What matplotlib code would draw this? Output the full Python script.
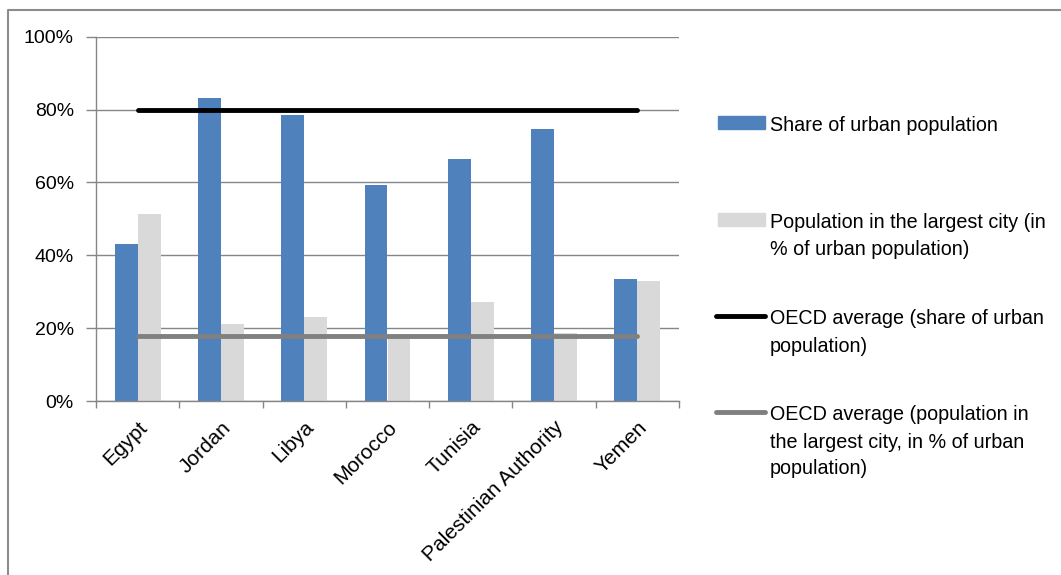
import matplotlib
matplotlib.use("Agg")
import matplotlib.pyplot as plt
from matplotlib.lines import Line2D
from matplotlib.patches import Rectangle
import numpy as np

plt.rcParams['font.family'] = ['Liberation Sans', 'DejaVu Sans']

countries = ["Egypt", "Jordan", "Libya", "Morocco", "Tunisia",
             "Palestinian Authority", "Yemen"]
urban_share = [43.0, 83.2, 78.4, 59.3, 66.5, 74.8, 33.5]
largest_city = [51.2, 21.2, 23.0, 18.0, 27.1, 18.8, 33.0]
oecd_urban = 80.0
oecd_largest = 17.8
yticks = [0, 20, 40, 60, 80, 100]
ytick_labels = ["0%", "20%", "40%", "60%", "80%", "100%"]
legend_labels = [
    "Share of urban population",
    "Population in the largest city (in\n% of urban population)",
    "OECD average (share of urban\npopulation)",
    "OECD average (population in\nthe largest city, in % of urban\npopulation)",
]

BLUE = "#4F81BD"
LIGHT = "#D9D9D9"
GRID = "#868686"
DARKGREY = "#808080"

W, H = 1061, 575
fig = plt.figure(figsize=(W / 100, H / 100), dpi=100)

def fx(px):
    return px / W

def fy(py):
    return 1 - py / H

ax = fig.add_axes([fx(96), fy(401), fx(679) - fx(96), fy(36.7) - fy(401)])

x = np.arange(len(countries))
bw = 0.276
ax.bar(x - bw / 2, urban_share, width=bw, color=BLUE, zorder=2)
ax.bar(x + bw / 2, largest_city, width=bw, color=LIGHT, zorder=2)

ax.plot([x[0], x[-1]], [oecd_urban, oecd_urban], color="black", lw=3.5,
        solid_capstyle="round", zorder=3)
ax.plot([x[0], x[-1]], [oecd_largest, oecd_largest], color=DARKGREY, lw=3.5,
        solid_capstyle="round", zorder=3)

ax.set_xlim(-0.5, len(countries) - 0.5)
ax.set_ylim(0, 100)
ax.set_yticks(yticks)
ax.set_yticklabels(ytick_labels, fontsize=14)
ax.yaxis.grid(True, color=GRID, lw=1.0, zorder=0)
ax.set_axisbelow(True)

ax.set_xticks(x)
ax.set_xticklabels(countries, rotation=45, ha="right", rotation_mode="anchor",
                   fontsize=15)
ax.set_xticks(np.arange(-0.5, len(countries)), minor=True)
ax.tick_params(axis="x", which="major", length=0, pad=12)
ax.tick_params(axis="x", which="minor", length=5, width=1, color=GRID,
               direction="out")
ax.tick_params(axis="y", length=7, width=1, color=GRID, direction="out",
               pad=9)

for s in ["top", "right"]:
    ax.spines[s].set_visible(False)
for s in ["left", "bottom"]:
    ax.spines[s].set_color(GRID)
    ax.spines[s].set_linewidth(1.0)

# Legend (manual)
handle_y = [122.5, 219.5, 316, 412]
hx0, hx1 = 718, 765
fig.add_artist(Rectangle((fx(hx0), fy(129)), fx(hx1) - fx(hx0), fy(116) - fy(129),
                         transform=fig.transFigure, color=BLUE))
fig.add_artist(Rectangle((fx(hx0), fy(226)), fx(hx1) - fx(hx0), fy(213) - fy(226),
                         transform=fig.transFigure, color=LIGHT))
fig.add_artist(Line2D([fx(716), fx(765)], [fy(handle_y[2])] * 2,
                      transform=fig.transFigure, color="black", lw=3.5,
                      solid_capstyle="round"))
fig.add_artist(Line2D([fx(716), fx(765)], [fy(handle_y[3])] * 2,
                      transform=fig.transFigure, color=DARKGREY, lw=3.5,
                      solid_capstyle="round"))
for hy, label in zip(handle_y, legend_labels):
    for k, line in enumerate(label.split("\n")):
        fig.text(fx(770), fy(hy + 8.5 + 27 * k), line, fontsize=14.2,
                 va="baseline", ha="left", color="black")

# Outer chart border (left and top visible)
fig.add_artist(Line2D([fx(8), fx(8), fx(1061)], [fy(575), fy(10), fy(10)],
                      transform=fig.transFigure, color="#8C8C8C", lw=1.5))

fig.savefig("out.png", dpi=100)
